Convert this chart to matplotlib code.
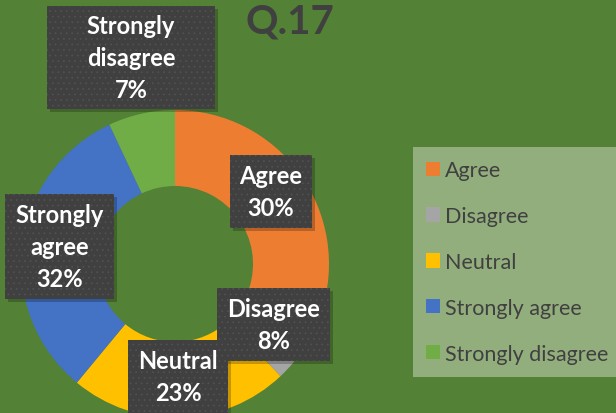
import matplotlib
matplotlib.use('Agg')
import matplotlib.pyplot as plt
from matplotlib.patches import Rectangle, Patch

plt.rcParams['font.family'] = ['Lato', 'DejaVu Sans']
plt.rcParams['hatch.linewidth'] = 0.5

# data
categories = ['Agree', 'Disagree', 'Neutral', 'Strongly agree', 'Strongly disagree']
percents = [30, 8, 23, 32, 7]
colors = ['#ED7D31', '#A5A5A5', '#FFC000', '#4472C4', '#70AD47']
title = 'Q.17'

# label boxes (left, top, right, bottom) in pixels from the top-left corner
label_boxes = [
    (230, 156, 312, 229),
    (217, 289, 330, 362),
    (128, 341, 228, 420),
    (5, 195, 114, 300),
    (47, 7, 215, 110),
]

W, H = 616, 414
bg = '#538135'

fig = plt.figure(figsize=(W / 100, H / 100), dpi=100, facecolor=bg)
ax = fig.add_axes([0, 0, 1, 1])
ax.set_xlim(0, W)
ax.set_ylim(0, H)
ax.set_facecolor(bg)
ax.axis('off')

def py(y):
    # pixel row (top down) -> data y
    return H - y

# donut
cx, cy, R, r = 175, 265, 154, 78
wedges, _ = ax.pie(percents, colors=colors, startangle=90, counterclock=False,
                   center=(cx, py(cy)), radius=R,
                   wedgeprops=dict(width=R - r, linewidth=0))
ax.set_xlim(0, W)
ax.set_ylim(0, H)
ax.set_aspect('equal')

# data labels
for cat, val, box in zip(categories, percents, label_boxes):
    x0, y0, x1, y1 = box
    shadow = Rectangle((x0 + 3, py(y1) - 3), x1 - x0, y1 - y0, facecolor='black',
                       alpha=0.22, linewidth=0, zorder=3)
    ax.add_patch(shadow)
    rect = Rectangle((x0, py(y1)), x1 - x0, y1 - y0, facecolor='#404040',
                     edgecolor='#525252', hatch='...', linewidth=0, zorder=4)
    ax.add_patch(rect)
    txt = cat.replace(' ', '\n') + '\n' + f'{val}%'
    ax.text((x0 + x1) / 2, py((y0 + min(y1, H)) / 2), txt, ha='center', va='center',
            color='white', fontsize=17, fontweight='bold', linespacing=1.45, zorder=5)

# title
ax.text(290, py(22), title, ha='center', va='center', color='#404040',
        fontsize=29, fontweight='bold')

# legend
handles = [Patch(facecolor=c, edgecolor='none') for c in colors]
leg = ax.legend(handles, categories, loc='upper left',
                bbox_to_anchor=(413 / W, 1 - 148 / H), borderaxespad=0,
                frameon=True, fancybox=False, facecolor='#93AE7D', edgecolor='none',
                framealpha=1, fontsize=15.5, labelcolor='#404040',
                handlelength=0.65, handleheight=0.65, handletextpad=0.2,
                labelspacing=1.2, borderpad=0.62)

fig.savefig('out.png', dpi=100, facecolor=bg)
